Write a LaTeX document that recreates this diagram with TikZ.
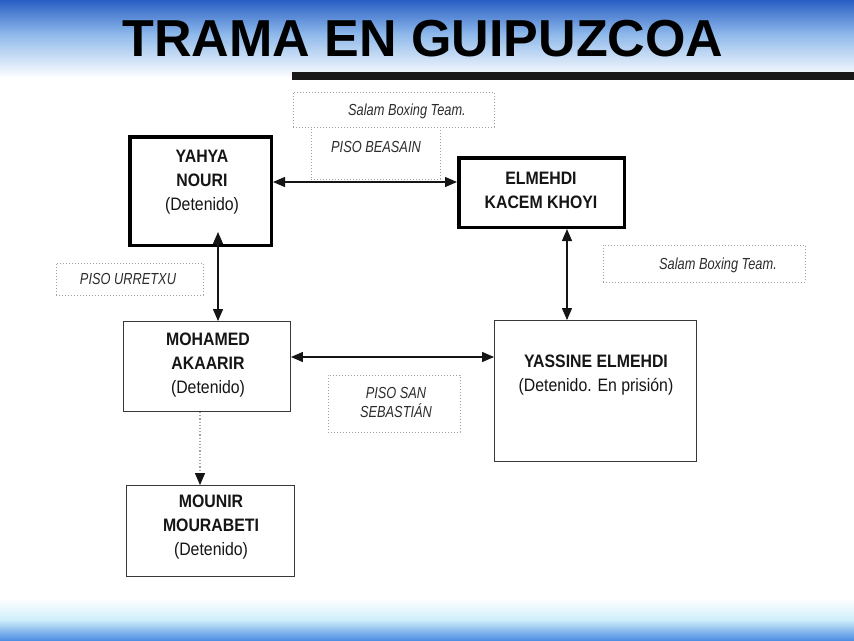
\documentclass[tikz,border=0pt]{standalone}
\usepackage{fontspec}
\setmainfont{Liberation Sans}
\newfontfamily\namefont[FakeStretch=0.88]{Liberation Sans}
\newfontfamily\labfont[FakeStretch=0.8]{Liberation Sans}
\usetikzlibrary{arrows.meta}
\definecolor{topblue}{HTML}{2A5FC4}
\definecolor{midblue}{HTML}{8DB8EA}
\definecolor{botblue}{HTML}{4F8FE3}
\definecolor{botmid}{HTML}{CFEEFA}
\definecolor{ink}{HTML}{151515}
\tikzset{
  thickbox/.style={draw=black, line width=3.5pt, inner sep=0pt},
  thinbox/.style={draw=ink!85, line width=1.4pt, inner sep=0pt},
  tagbox/.style={draw=gray!75, dotted, line width=1pt, inner sep=0pt},
  nametext/.style={align=center, text=ink, inner sep=0pt,
    font=\namefont\fontsize{18}{24}\selectfont\bfseries},
  tagtext/.style={align=center, text=ink!90, inner sep=0pt,
    font=\labfont\fontsize{16}{19}\selectfont\itshape},
  conn/.style={line width=1.3pt, draw=ink,
    {Triangle[length=12pt,width=10pt]}-{Triangle[length=12pt,width=10pt]}},
}
\newcommand{\detn}[1]{{\mdseries #1}}
\begin{document}
\begin{tikzpicture}[x=1pt,y=-1pt]
\useasboundingbox (0,0) rectangle (854,640);
\fill[white] (0,0) rectangle (854,640);
% top gradient
\shade[top color=topblue, bottom color=midblue] (0,0) rectangle (854,34);
\shade[top color=midblue, bottom color=white] (0,33.5) rectangle (854,78);
% bottom gradient
\shade[top color=white, bottom color=botmid] (0,598) rectangle (854,620);
\shade[top color=botmid, bottom color=botblue] (0,619.5) rectangle (854,640);
% title
\node[anchor=base, text=black, font=\bfseries\fontsize{52}{52}\selectfont, inner sep=0pt] (title) at (423,56) {TRAMA EN GUIPUZCOA};
\fill[black!90] (292,72) rectangle (854,80);

% dotted tag boxes
\node[tagbox, minimum width=201, minimum height=35] (salam1) at (393.5,109.5) {};
\node[tagtext] (salam1T) at (407,111) {Salam Boxing Team.};
\node[tagbox, minimum width=129, minimum height=52] (beasain) at (375.5,153) {};
\node[tagtext] (beasainT) at (376,147) {PISO BEASAIN};
\node[tagbox, minimum width=147, minimum height=32] (urretxu) at (129.5,279) {};
\node[tagtext] (urretxuT) at (128,279) {PISO URRETXU};
\node[tagbox, minimum width=202, minimum height=37] (salam2) at (704,263.5) {};
\node[tagtext] (salam2T) at (718,265) {Salam Boxing Team.};
\node[tagbox, minimum width=132, minimum height=57] (sansebas) at (394,403.5) {};
\node[tagtext] (sansebasT) at (396,402.5) {PISO SAN\\SEBASTIÁN};

% person boxes
\node[thickbox, minimum width=141.5, minimum height=108.5] (yahya) at (200.5,191) {};
\node[nametext] (yahyaT) at (202,182.5) {YAHYA\\NOURI\\\detn{(Detenido)}};
\node[thickbox, minimum width=165.5, minimum height=69.5] (elmehdi) at (541.5,192.5) {};
\node[nametext] (elmehdiT) at (541,190) {ELMEHDI\\KACEM KHOYI};
\node[thinbox, minimum width=166.5, minimum height=89.5] (mohamed) at (207,366.5) {};
\node[nametext] (mohamedT) at (208,365) {MOHAMED\\AKAARIR\\\detn{(Detenido)}};
\node[thinbox, minimum width=201.5, minimum height=140.5] (yassine) at (595.5,391) {};
\node[nametext] (yassineT) at (596,375) {YASSINE ELMEHDI\\\detn{(Detenido. En prisión)}};
\node[thinbox, minimum width=167.5, minimum height=90.5] (mounir) at (210.5,531) {};
\node[nametext] (mounirT) at (211,527.5) {MOUNIR\\MOURABETI\\\detn{(Detenido)}};

% connectors
\draw[conn] (yahya.east |- 0,182) -- (elmehdi.west |- 0,182);
\coordinate (ytip) at (218,232);
\draw[conn] (ytip) -- (mohamed.north -| ytip);
\coordinate (ecol) at (567,0);
\draw[conn] (elmehdi.south -| ecol) -- (yassine.north -| ecol);
\draw[conn] (mohamed.east |- 0,357) -- (yassine.west |- 0,357);
\coordinate (mcol) at (200,0);
\draw[line width=1.2pt, draw=gray!70, dotted, -{Triangle[length=12pt,width=10pt,color=ink]}] (mohamed.south -| mcol) -- (mounir.north -| mcol);
\end{tikzpicture}
\end{document}
